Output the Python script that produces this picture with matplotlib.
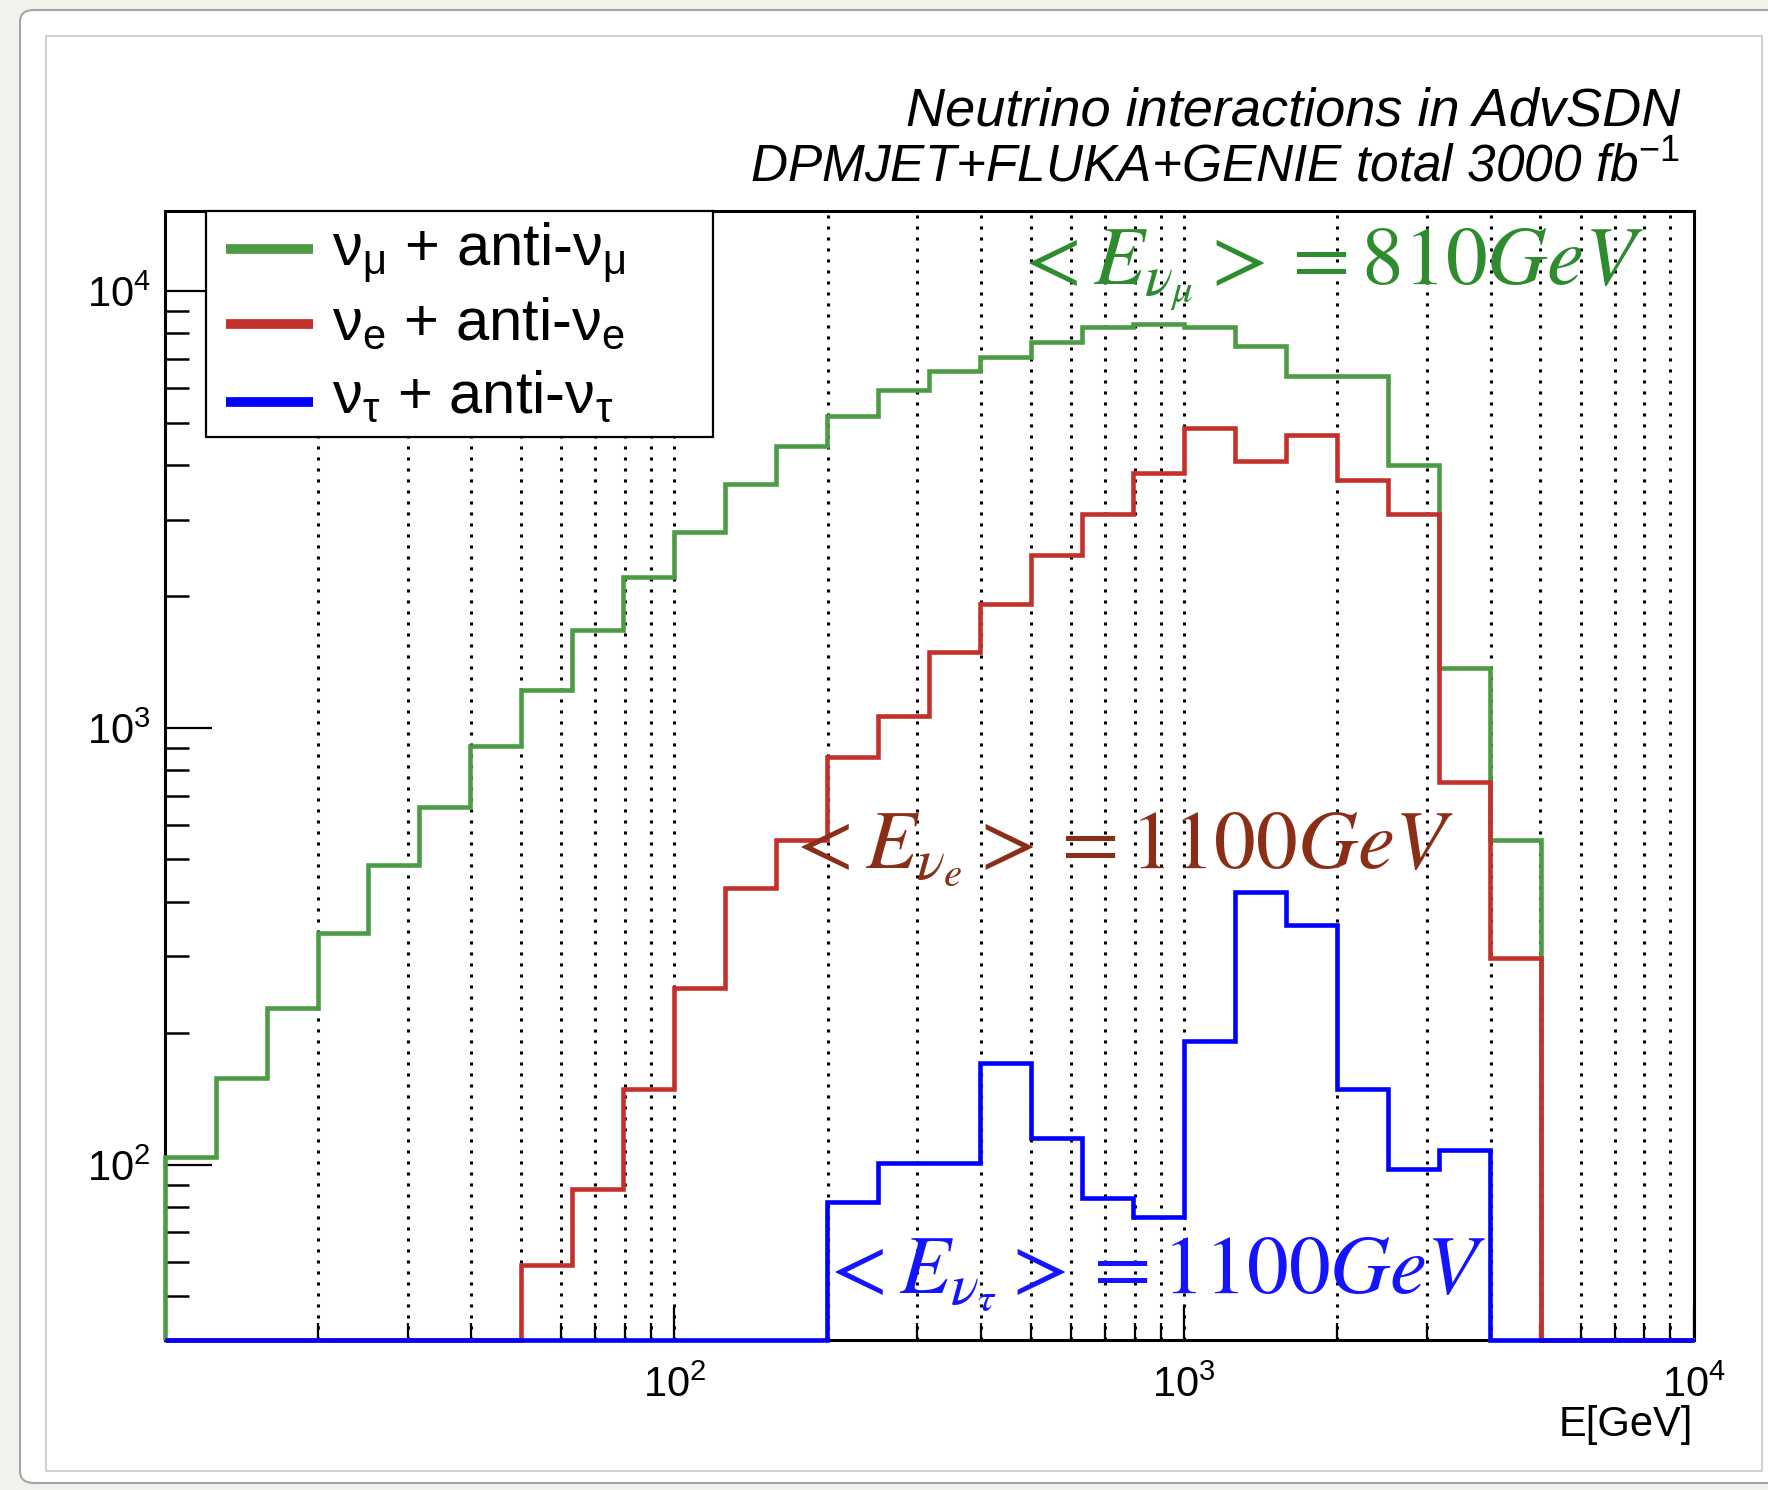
import numpy as np
import matplotlib
matplotlib.use("Agg")
import matplotlib.pyplot as plt
from matplotlib.patches import Rectangle, FancyBboxPatch
from matplotlib.lines import Line2D
from matplotlib.ticker import FixedLocator, LogLocator, NullFormatter, LogFormatterSciNotation

plt.rcParams.update({
    "font.family": "Liberation Sans",
    "mathtext.fontset": "custom",
    "mathtext.rm": "Liberation Sans",
    "mathtext.it": "Liberation Sans:italic",
    "mathtext.bf": "Liberation Sans:bold",
})

# ---- data: 30 log bins from 10 GeV to 10 TeV, counts
edges = np.logspace(1, 4, 31)
numu = [104, 158, 229, 340, 485, 659, 910, 1220, 1680, 2210,
        2810, 3610, 4410, 5190, 5930, 6550, 7075, 7660, 8290, 8410,
        8290, 7490, 6400, 6400, 4000, 1375, 555, 0, 0, 0]
nue = [0, 0, 0, 0, 0, 0, 0, 59, 88, 149,
       254, 431, 554, 860, 1066, 1492, 1921, 2494, 3083, 3843,
       4857, 4093, 4684, 3690, 3095, 752, 297, 0, 0, 0]
nutau = [0, 0, 0, 0, 0, 0, 0, 0, 0, 0,
         0, 0, 0, 82, 101, 101, 171, 115, 84, 76,
         192, 422, 354, 149, 98, 108, 0, 0, 0, 0]
series = [numu, nue, nutau]
flavours = [r"\mu", "e", r"\tau"]
mean_E = [810, 1100, 1100]

line_col = ["#4c9c45", "#c4302b", "#0000ff"]
text_col = ["#2e8b2e", "#8b2e18", "#1414ff"]

W, H = 1768, 1490
fig = plt.figure(figsize=(W / 100, H / 100), dpi=100)
fig.patch.set_facecolor("#f2f1ec")

# screenshot card + inner frame (behind the axes)
card = FancyBboxPatch((20 / W, 1 - 1483 / H), (1790 - 20) / W, (1483 - 10) / H,
                      boxstyle="round,pad=0,rounding_size=0.008",
                      transform=fig.transFigure, fc="white", ec="#a5a5a5", lw=1.5,
                      zorder=-3)
fig.add_artist(card)
fig.add_artist(Rectangle((46 / W, 1 - 1471 / H), (1762 - 46) / W, (1471 - 36) / H,
                         transform=fig.transFigure, fc="white", ec="#c8c8c8", lw=1.2,
                         zorder=-2))

ymin, ymax = 39.8, 15260
x0, x1, yt, yb = 164.6, 1693.6, 210.9, 1339.6
ax = fig.add_axes([x0 / W, 1 - yb / H, (x1 - x0) / W, (yb - yt) / H])
ax.set_zorder(1)
ax.patch.set_alpha(0)
ax.set_xscale("log"); ax.set_yscale("log")
ax.set_xlim(10, 1e4); ax.set_ylim(ymin, ymax)

for vals, c in zip(series, line_col):
    v = np.asarray(vals, float)
    v = np.where(v > 0, v, ymin)          # empty bins sit on the frame, ROOT style
    ax.stairs(v, edges, baseline=ymin, color=c, lw=3.3, zorder=3, clip_on=False)

# axes styling
for s in ax.spines.values():
    s.set_linewidth(2.2)
ax.xaxis.set_major_locator(FixedLocator([1e2, 1e3, 1e4]))
ax.xaxis.set_minor_locator(LogLocator(base=10, subs=np.arange(2, 10), numticks=20))
ax.xaxis.set_minor_formatter(NullFormatter())
ax.xaxis.set_major_formatter(LogFormatterSciNotation())
ax.yaxis.set_major_locator(FixedLocator([1e2, 1e3, 1e4]))
ax.yaxis.set_minor_locator(LogLocator(base=10, subs=np.arange(2, 10), numticks=20))
ax.yaxis.set_minor_formatter(NullFormatter())
ax.yaxis.set_major_formatter(LogFormatterSciNotation())
ax.tick_params(axis="x", which="major", direction="in", length=24, width=1.6,
               labelsize=30, pad=19, top=False)
ax.tick_params(axis="x", which="minor", direction="in", length=12, width=1.6, top=False)
ax.tick_params(axis="y", which="major", direction="in", length=34, width=1.6,
               labelsize=30, pad=10, right=False)
ax.tick_params(axis="y", which="minor", direction="in", length=17, width=1.8, right=False)
ax.grid(True, axis="x", which="both", color="black", lw=2.2, linestyle=(0, (1, 2.6)))
ax.grid(False, axis="y", which="both")

# legend box (drawn by hand to match the ROOT TLegend)
ax.add_patch(Rectangle((0.0271, 0.7997), 0.3316, 0.2003, transform=ax.transAxes,
                       fc="white", ec="black", lw=1.6, zorder=5, clip_on=False))
row_line = [0.9662, 0.8997, 0.8306]
row_base = [0.9521, 0.8856, 0.8209]
for f, c, yl, yb_ in zip(flavours, line_col, row_line, row_base):
    ax.add_line(Line2D([0.0402, 0.0971], [yl, yl], transform=ax.transAxes,
                       color=c, lw=7, solid_capstyle="butt", zorder=6))
    ax.text(0.1095, yb_, rf"$\mathrm{{\nu_{{{f}}}}}$ + anti-$\mathrm{{\nu_{{{f}}}}}$",
            transform=ax.transAxes, fontsize=43, va="baseline", ha="left", zorder=6)

# mean energy annotations
ann_pos = [(1012, 284), (784, 868), (818, 1293)]
for f, e, c, (px_, py_) in zip(flavours, mean_E, text_col, ann_pos):
    fig.text(px_ / W, 1 - py_ / H, rf"$<E_{{\nu_{{{f}}}}}>=%dGeV$" % e,
             color=c, fontsize=60, math_fontfamily="stix", ha="left", va="baseline",
             zorder=10)

# header
fig.text(1680 / W, 1 - 125 / H, "Neutrino interactions in AdvSDN",
         fontsize=39, style="italic", ha="right", va="baseline")
fig.text(1680 / W, 1 - 182 / H, r"DPMJET+FLUKA+GENIE total 3000 fb$^{\mathit{-1}}$",
         fontsize=37, style="italic", ha="right", va="baseline")

# x axis title
fig.text(1693 / W, 1 - 1436 / H, "E[GeV]", fontsize=30, ha="right", va="baseline")

fig.savefig("out.png", dpi=100, facecolor=fig.get_facecolor())
